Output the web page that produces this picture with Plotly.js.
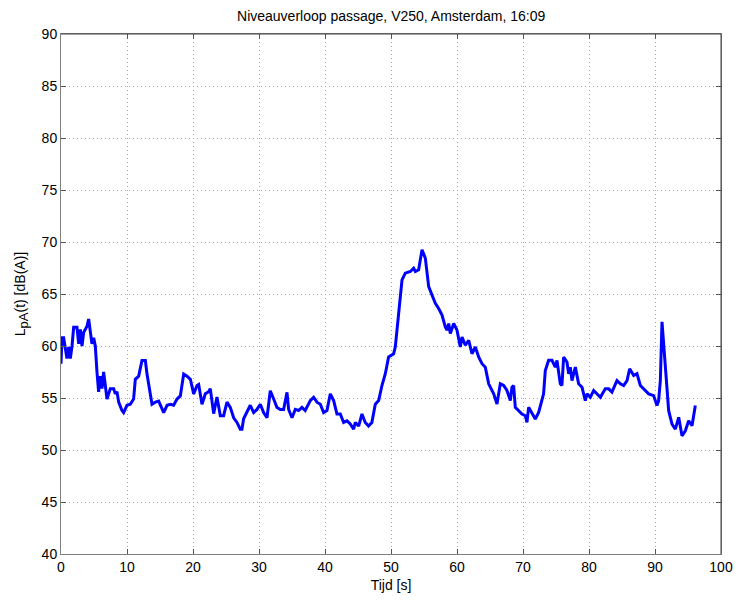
<!DOCTYPE html>
<html>
<head>
<meta charset="utf-8">
<script src="https://cdn.plot.ly/plotly-3.0.1.min.js"></script>
<style>
  html, body { margin: 0; padding: 0; background: #ffffff; }
  #chart { width: 738px; height: 601px; }
</style>
</head>
<body>
<div id="chart"></div>
<script>
// Time [s]
const time = [
  0,0.15,0.4,0.9,1.16,1.41,1.67,1.92,2.42,2.68,
  2.93,3.18,3.43,3.94,4.19,4.44,4.69,4.95,5.2,5.45,
  5.7,5.96,6.21,6.46,6.72,6.97,7.47,7.98,8.23,8.48,
  8.74,9.24,9.49,10.0,10.5,11.0,11.26,11.77,12.27,12.78,
  13.03,13.54,13.79,14.3,14.8,15.56,16.07,16.57,17.07,17.58,
  18.08,18.59,19.09,19.6,20.1,20.61,20.86,21.36,21.87,22.37,
  22.62,23.13,23.63,24.14,24.64,25.15,25.65,26.16,26.66,27.16,
  27.42,27.67,28.18,28.68,29.19,29.69,30.2,30.7,31.21,31.71,
  32.22,32.72,33.23,33.73,34.24,34.49,35.0,35.5,36.0,36.5,
  37.0,37.77,38.28,38.78,39.29,39.79,40.3,40.8,41.31,41.81,
  42.32,42.82,43.33,43.83,44.34,44.59,45.1,45.6,46.1,46.6,
  47.1,47.62,48.13,48.63,49.14,49.64,50.4,50.65,51.16,51.41,
  51.67,52.17,52.93,53.43,53.69,54.19,54.7,55.2,55.45,55.71,
  56.21,56.72,57.22,57.73,58.23,58.48,58.74,58.99,59.5,60.0,
  60.5,60.76,61.26,61.77,62.27,62.78,63.28,63.79,64.29,64.8,
  65.56,66.06,
  66.56,67.07,67.57,68.08,68.33,68.58,68.83,69.34,69.84,70.35,
  70.6,70.85,71.36,71.86,72.37,72.87,73.12,73.38,73.88,74.39,
  74.89,75.15,75.65,75.9,76.16,76.66,76.92,77.17,77.42,77.93,
  78.43,78.94,79.44,79.7,80.2,80.71,81.21,81.72,82.47,82.98,
  83.48,84.24,84.75,85.25,85.76,86.16,86.77,87.27,87.78,88.28,
  89.04,89.79,90.3,90.55,90.81,91.06,91.31,91.57,91.82,92.07,
  92.58,93.08,93.59,94.09,94.6,95.1,95.61,96.11
];

// L_pA(t) [dB(A)]
const level = [
  58.3,60.8,60.8,58.8,59.9,58.8,60.0,61.8,61.8,60.2,
  61.6,60.0,61.3,61.9,62.6,61.6,60.2,60.8,60.0,57.5,
  55.6,57.1,55.9,57.5,56.2,54.9,55.9,55.9,55.4,55.6,
  54.6,53.8,53.6,54.3,54.4,54.9,56.8,57.1,58.6,58.6,
  57.3,55.6,54.4,54.6,54.7,53.6,54.3,54.4,54.3,54.9,
  55.2,57.3,57.1,56.8,55.4,56.2,56.3,54.4,55.4,55.6,
  55.9,53.5,55.1,53.3,53.3,54.6,54.1,53.1,52.65,52.0,
  52.0,53.0,53.6,54.3,53.6,53.9,54.4,53.6,53.1,55.7,
  54.9,54.1,53.9,53.9,55.55,53.9,53.1,53.9,53.8,54.1,
  53.8,54.75,55.07,54.6,54.4,53.6,53.8,55.4,54.75,53.46,
  53.46,52.65,52.8,52.5,52.0,52.65,52.3,53.46,52.65,52.3,
  52.65,54.4,54.75,56.2,57.33,58.94,59.26,59.9,63.13,64.74,
  66.35,67.0,67.16,67.48,67.16,67.32,69.26,68.45,67.32,65.71,
  64.9,64.1,63.6,62.97,61.84,61.52,62.16,61.2,62.16,61.52,
  59.9,60.87,60.07,60.55,59.26,59.9,58.94,58.3,57.97,56.36,
  55.4,54.43,
  56.36,56.2,55.72,54.75,56.04,56.2,54.1,53.78,53.46,53.3,
  52.65,54.1,53.46,52.98,53.62,54.75,55.4,57.65,58.62,58.62,
  57.97,58.62,56.36,56.2,58.94,58.46,57.33,57.97,56.68,57.97,
  56.36,56.04,54.75,55.4,55.07,55.72,55.4,55.07,55.88,55.88,
  55.56,56.68,56.36,56.2,56.68,57.81,57.17,57.33,56.2,55.88,
  55.4,55.23,54.27,54.75,56.68,62.33,60.23,57.97,55.72,53.78,
  52.49,52.0,53.14,51.36,51.85,52.81,52.33,54.27
];

const xTicks = [0,10,20,30,40,50,60,70,80,90,100];
const yTicks = [40,45,50,55,60,65,70,75,80,85,90];

const titleText = 'Niveauverloop passage, V250, Amsterdam, 16:09';
const xTitle = 'Tijd [s]';
const yTitle = 'L<sub><span style="font-size:13px">pA</span></sub>(t) [dB(A)]';

const fontFamily = '"Liberation Sans", Arial, Helvetica, sans-serif';

const trace = {
  x: time,
  y: level,
  type: 'scatter',
  mode: 'lines',
  line: { color: '#0000ff', width: 3 },
  hoverinfo: 'x+y'
};

const axisCommon = {
  showline: true,
  linecolor: '#7f7f7f',
  linewidth: 1,
  mirror: 'ticks',
  ticks: 'inside',
  ticklen: 5,
  tickcolor: '#555555',
  showgrid: true,
  gridcolor: '#a8a8a8',
  griddash: '1px,3px',
  gridwidth: 1,
  zeroline: false,
  tickfont: { family: fontFamily, size: 14, color: '#000000' }
};

const layout = {
  width: 738,
  height: 601,
  margin: { l: 61, r: 17, t: 34, b: 47 },
  paper_bgcolor: '#ffffff',
  plot_bgcolor: '#ffffff',
  showlegend: false,
  font: { family: fontFamily, size: 14, color: '#000000' },
  title: {
    text: titleText,
    font: { family: fontFamily, size: 14, color: '#000000' },
    x: 0.53, xanchor: 'center',
    y: 0.973, yanchor: 'middle', yref: 'container'
  },
  xaxis: Object.assign({}, axisCommon, {
    range: [0, 100],
    tickvals: xTicks,
    ticktext: xTicks.map(String),
    title: { text: xTitle, font: { family: fontFamily, size: 14 }, standoff: 6 }
  }),
  yaxis: Object.assign({}, axisCommon, {
    range: [40, 90],
    tickvals: yTicks,
    ticktext: yTicks.map(String),
    title: { text: yTitle, font: { family: fontFamily, size: 14 }, standoff: 12 }
  }),
  shapes: [
    { type: 'line', xref: 'paper', yref: 'paper', x0: 0, x1: 1, y0: 1, y1: 1,
      line: { color: '#404040', width: 1 } },
    { type: 'line', xref: 'paper', yref: 'paper', x0: 1, x1: 1, y0: 0, y1: 1,
      line: { color: '#404040', width: 1 } }
  ]
};

Plotly.newPlot('chart', [trace], layout, { staticPlot: true, displayModeBar: false });
</script>
</body>
</html>
